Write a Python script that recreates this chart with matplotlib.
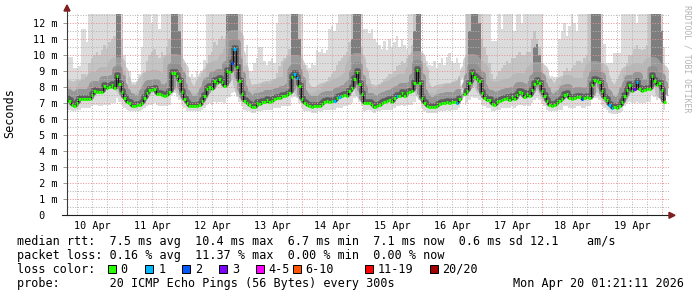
"""
Smokeping style latency graph: median rtt with smoke, 10 day view.
"""

import numpy as np
import matplotlib
matplotlib.use("Agg")
import matplotlib.pyplot as plt
import matplotlib.patches as mpatches
import matplotlib.transforms as mtransforms

W, H, DPI = 697, 297, 100

# one sample per hour, hours counted from 10 Apr 00:00
hours = np.arange(2, 242)

median = np.array([
    7.23, 7.14, 6.90, 6.81, 7.02, 7.23, 7.25, 7.25, 7.23, 7.27, 7.52, 7.73,
    7.70, 7.70, 7.70, 8.04, 7.92, 8.00, 8.10, 7.97, 8.67, 8.19, 7.69, 7.35,
    7.06, 7.02, 6.85, 6.81, 6.90, 6.90, 7.02, 7.29, 7.65, 7.81, 7.81, 7.87,
    7.58, 7.54, 7.50, 7.44, 7.50, 7.69, 8.85, 8.90, 8.69, 8.37, 7.69, 7.23,
    6.98, 6.83, 6.83, 6.83, 6.83, 6.90, 7.14, 7.44, 7.87, 8.00, 7.85, 8.40,
    8.23, 8.48, 8.31, 8.06, 9.00, 8.94, 9.52, 10.38, 9.23, 8.35, 7.56, 7.12,
    6.98, 6.90, 6.77, 6.77, 7.02, 6.92, 7.06, 7.08, 7.19, 7.06, 7.15, 7.27,
    7.35, 7.31, 7.44, 7.46, 7.48, 7.60, 8.65, 8.83, 8.58, 8.06, 7.23, 6.98,
    6.90, 6.83, 6.77, 6.79, 6.79, 6.85, 6.94, 7.06, 7.15, 7.08, 7.15, 7.15,
    7.31, 7.40, 7.44, 7.50, 7.44, 7.77, 7.94, 8.52, 8.94, 8.19, 7.56, 6.98,
    7.02, 7.02, 6.88, 6.77, 6.81, 6.90, 7.02, 7.06, 7.15, 7.19, 7.06, 7.29,
    7.44, 7.44, 7.65, 7.44, 7.60, 7.69, 7.77, 8.23, 9.04, 8.27, 7.29, 7.02,
    6.81, 6.77, 6.77, 6.73, 6.81, 6.94, 7.02, 7.02, 7.06, 7.02, 7.10, 7.06,
    7.02, 7.27, np.nan, 7.56, 7.77, 8.27, 8.85, 8.60, 8.52, 8.35, 7.65, 7.35,
    7.19, 7.20, 6.94, 6.90, 7.06, 7.15, 7.19, 7.23, 7.31, 7.19, 7.40, 7.27,
    7.48, 7.69, 7.60, 7.40, 7.56, 7.44, 7.81, 8.19, 8.35, 8.23, 7.77, 7.44,
    7.15, 6.90, 6.85, 6.90, 6.98, 7.15, 7.23, 7.52, 7.56, 7.31, 7.27, 7.35,
    7.40, 7.40, 7.23, 7.31, 7.40, 7.35, 8.10, 8.44, 8.40, 8.31, 7.73, 7.31,
    7.19, 6.90, 6.70, 6.73, 6.71, 6.85, 7.08, 7.47, 7.83, 8.15, 7.73, 7.85,
    8.29, 7.85, 7.73, 7.81, 7.90, 7.90, 8.69, 8.40, 8.15, 8.27, 7.81, 7.06,
])

# smoke: fastest ping, top of the denser smoke, slowest ping (ms)
smoke_lo = np.array([
    6.6, 6.6, 6.5, 6.5, 6.6, 6.6, 6.7, 6.7, 6.7, 6.7, 6.8, 6.9,
    6.9, 6.8, 6.8, 6.9, 6.9, 6.9, 7.0, 7.0, 7.3, 7.1, 6.9, 6.7,
    6.6, 6.5, 6.5, 6.5, 6.5, 6.5, 6.6, 6.7, 6.8, 6.9, 6.9, 7.0,
    6.9, 6.8, 6.8, 6.8, 6.8, 6.9, 7.5, 7.6, 7.4, 7.2, 6.9, 6.7,
    6.5, 6.5, 6.5, 6.5, 6.5, 6.5, 6.6, 6.7, 6.9, 7.0, 6.9, 7.1,
    7.0, 7.1, 7.1, 7.0, 7.3, 7.4, 7.6, 7.7, 7.4, 7.1, 6.8, 6.6,
    6.5, 6.5, 6.4, 6.4, 6.5, 6.5, 6.5, 6.6, 6.6, 6.6, 6.6, 6.7,
    6.7, 6.7, 6.8, 6.8, 6.8, 6.8, 7.3, 7.4, 7.3, 7.0, 6.7, 6.5,
    6.5, 6.5, 6.4, 6.4, 6.4, 6.5, 6.5, 6.6, 6.6, 6.6, 6.6, 6.6,
    6.7, 6.7, 6.7, 6.8, 6.8, 6.9, 7.0, 7.3, 7.5, 7.1, 6.8, 6.5,
    6.6, 6.6, 6.5, 6.4, 6.5, 6.5, 6.6, 6.6, 6.6, 6.6, 6.6, 6.7,
    6.8, 6.8, 6.9, 6.8, 6.9, 6.9, 6.9, 7.1, 7.5, 7.2, 6.7, 6.5,
    6.4, 6.4, 6.4, 6.4, 6.4, 6.5, 6.5, 6.5, 6.6, 6.5, 6.6, 6.6,
    6.6, 6.7, np.nan, 6.9, 7.0, 7.2, 7.4, 7.3, 7.3, 7.2, 6.9, 6.8,
    6.7, 6.7, 6.5, 6.5, 6.6, 6.6, 6.7, 6.7, 6.7, 6.7, 6.8, 6.7,
    6.8, 6.9, 6.9, 6.8, 6.9, 6.8, 7.0, 7.2, 7.3, 7.2, 7.0, 6.8,
    6.6, 6.5, 6.5, 6.5, 6.5, 6.6, 6.6, 6.8, 6.8, 6.7, 6.7, 6.7,
    6.8, 6.8, 6.7, 6.7, 6.8, 6.8, 7.2, 7.3, 7.3, 7.2, 6.9, 6.7,
    6.6, 6.4, 6.3, 6.3, 6.3, 6.4, 6.5, 6.8, 7.0, 7.1, 7.0, 7.0,
    7.1, 7.0, 7.0, 7.0, 7.1, 7.1, 7.5, 7.4, 7.2, 7.3, 7.0, 6.6,
])

smoke_mid = np.array([
    8.2, 8.0, 7.9, 7.8, 8.0, 8.3, 8.8, 8.8, 8.6, 9.5, 9.8, 10.0,
    10.2, 10.0, 10.3, 10.6, 10.4, 10.8, 11.0, 11.2, 12.6, 12.6, 11.0, 9.0,
    7.8, 7.8, 7.6, 7.6, 7.7, 7.8, 8.3, 8.9, 9.6, 10.0, 10.2, 10.4,
    10.0, 9.8, 10.2, 10.0, 10.5, 11.0, 12.6, 12.6, 12.6, 12.6, 11.0, 8.4,
    7.8, 7.7, 7.7, 7.6, 7.7, 7.8, 8.2, 8.6, 9.5, 10.0, 10.2, 10.8,
    10.6, 11.0, 11.2, 11.0, 12.6, 12.6, 12.6, 12.6, 12.6, 12.6, 10.0, 8.2,
    8.0, 7.8, 7.7, 7.8, 8.0, 8.0, 8.2, 8.2, 8.3, 8.2, 8.3, 8.5,
    8.9, 9.3, 9.6, 9.8, 10.0, 10.4, 12.6, 12.6, 12.6, 12.6, 9.0, 8.0,
    7.8, 7.7, 7.6, 7.7, 7.8, 7.8, 8.0, 8.2, 8.4, 8.6, 8.8, 9.0,
    9.4, 9.6, 9.8, 10.0, 10.2, 10.8, 12.6, 12.6, 12.6, 12.6, 10.5, 8.2,
    8.2, 8.2, 8.0, 7.9, 8.0, 8.1, 8.3, 8.5, 8.6, 8.8, 8.8, 9.0,
    9.3, 9.4, 9.6, 9.5, 9.8, 10.0, 10.6, 12.6, 12.6, 12.6, 8.5, 8.0,
    7.8, 7.7, 7.7, 7.6, 7.8, 7.9, 8.0, 8.1, 8.2, 8.2, 8.3, 8.3,
    8.4, 8.6, np.nan, 9.8, 12.6, 12.6, 12.6, 12.6, 12.6, 12.6, 11.0, 10.5,
    10.0, 9.5, 8.8, 8.5, 8.7, 9.0, 9.2, 9.4, 9.6, 9.5, 9.8, 9.8,
    10.0, 10.2, 10.0, 10.0, 10.2, 10.2, 11.0, 11.5, 11.0, 10.5, 9.5, 8.3,
    7.9, 7.7, 7.7, 7.8, 7.9, 8.2, 8.5, 9.0, 9.2, 9.0, 9.2, 9.4,
    9.6, 9.6, 9.5, 9.8, 10.0, 12.6, 12.6, 12.6, 12.6, 12.6, 9.5, 8.4,
    8.0, 7.7, 7.5, 7.5, 7.5, 7.7, 8.2, 8.8, 9.5, 10.0, 10.0, 10.4,
    10.6, 10.4, 10.3, 10.4, 10.6, 12.6, 12.6, 12.6, 12.6, 12.6, 11.0, 8.5,
])

smoke_hi = np.array([
    10.6, 9.9, 9.9, 9.2, 9.2, 9.3, 11.6, 11.6, 10.8, 12.6, 12.6, 12.6,
    12.6, 12.6, 12.6, 12.6, 12.6, 12.6, 12.6, 12.6, 12.6, 12.6, 12.6, 10.0,
    8.1, 9.0, 8.1, 8.3, 8.4, 8.8, 10.5, 12.6, 12.6, 12.6, 12.0, 12.6,
    12.6, 11.6, 12.6, 12.6, 12.6, 12.6, 12.6, 12.6, 12.6, 12.6, 12.6, 9.5,
    8.7, 8.6, 8.8, 8.6, 9.0, 8.6, 8.9, 9.7, 12.6, 12.6, 12.6, 12.6,
    12.6, 12.6, 12.6, 12.6, 12.6, 12.6, 12.6, 12.6, 12.6, 12.6, 12.6, 9.3,
    10.6, 9.0, 9.0, 9.5, 9.8, 10.5, 10.5, 9.6, 9.4, 9.6, 9.8, 9.5,
    12.0, 12.6, 12.6, 12.6, 12.6, 12.6, 12.6, 12.6, 12.6, 12.6, 12.6, 9.4,
    9.4, 9.2, 9.5, 9.4, 10.3, 10.2, 10.4, 10.1, 10.3, 11.6, 11.8, 11.5,
    12.0, 12.6, 12.6, 12.6, 12.6, 12.6, 12.6, 12.6, 12.6, 12.6, 12.6, 11.6,
    11.6, 11.4, 11.6, 11.0, 10.8, 10.6, 10.4, 10.9, 10.3, 11.0, 10.5, 10.8,
    11.2, 10.5, 11.0, 10.6, 10.4, 12.6, 12.6, 12.6, 12.6, 12.6, 10.0, 9.5,
    9.6, 9.4, 9.3, 9.6, 9.2, 9.5, 9.8, 9.4, 9.9, 10.1, 9.6, 9.5,
    9.8, 9.5, np.nan, 12.6, 12.6, 12.6, 12.6, 12.6, 12.6, 12.6, 12.6, 12.6,
    12.6, 12.6, 10.9, 10.9, 10.9, 12.6, 11.6, 12.6, 12.6, 12.6, 12.6, 11.5,
    12.6, 12.6, 12.0, 12.6, 12.6, 12.6, 12.6, 12.6, 12.6, 12.6, 12.6, 8.6,
    8.6, 8.5, 8.7, 8.6, 8.6, 11.0, 11.5, 12.0, 11.2, 11.8, 12.6, 12.0,
    11.5, 12.6, 12.6, 12.6, 12.6, 12.6, 12.6, 12.6, 12.6, 12.6, 12.6, 10.7,
    9.5, 9.5, 9.5, 10.1, 10.1, 10.1, 12.6, 12.6, 12.6, 12.6, 12.6, 12.6,
    12.0, 12.6, 12.6, 12.6, 12.6, 12.6, 12.6, 12.6, 12.6, 12.6, 12.6, 10.5,
])

# evening hours where the dense smoke reaches far up
peak_hours = [22, 23, 44, 45, 46, 47, 66, 67, 68, 69, 70, 92, 93, 94, 95,
              116, 117, 118, 119, 141, 142, 143, 163, 164, 165, 166, 167,
              189, 190, 191, 212, 213, 214, 215, 236, 237, 238, 239, 240]
peak_tops = [12.6, 12.6, 12.6, 12.6, 12.6, 11.5, 12.6, 12.6, 12.6, 12.6, 12.6,
             12.6, 12.6, 12.6, 11.0, 11.0, 12.6, 12.6, 12.6, 11.5, 12.6, 12.6,
             11.5, 12.6, 12.6, 12.6, 12.0, 10.5, 10.7, 10.0, 12.6, 12.6, 12.6,
             12.6, 12.6, 12.6, 12.6, 12.6, 11.5]

# hours with lost pings (out of 20)
loss_hours = [68, 69, 93, 94, 109, 111, 134, 158, 208, 219, 220, 229, 230]
loss_pings = [2, 1, 1, 1, 1, 1, 1, 1, 2, 1, 1, 3, 1]

loss_labels = ["0", "1", "2", "3", "4-5", "6-10", "11-19", "20/20"]
loss_colors = ["#26ff00", "#00b8ff", "#0059ff", "#7e00ff",
               "#ff00ff", "#ff5500", "#ff0000", "#a10000"]

day_labels = ["10 Apr", "11 Apr", "12 Apr", "13 Apr", "14 Apr",
              "15 Apr", "16 Apr", "17 Apr", "18 Apr", "19 Apr"]

stats_lines = [
    "median rtt:  7.5 ms avg  10.4 ms max  6.7 ms min  7.1 ms now  0.6 ms sd 12.1    am/s",
    "packet loss: 0.16 % avg  11.37 % max  0.00 % min  0.00 % now",
]
probe_text = "probe:       20 ICMP Echo Pings (56 Bytes) every 300s"
stamp_text = "Mon Apr 20 01:21:11 2026"

MONO = "DejaVu Sans Mono"
GRID = "#b4b4b4"
MGRID = "#e89090"
ARROW = "#801f1f"


def fx(px):
    return px / W


def fy(py):
    return 1 - py / H


def loss_color(n):
    bins = [0, 1, 2, 3, 5, 10, 19, 20]
    for i, top in enumerate(bins):
        if n <= top:
            return loss_colors[i]
    return loss_colors[-1]


fig = plt.figure(figsize=(W / DPI, H / DPI), dpi=DPI, facecolor="white")
x0, x1, y0, y1 = 67, 669, 215.3, 14.0
ax = fig.add_axes([fx(x0), fy(y0), fx(x1) - fx(x0), fy(y1) - fy(y0)])
ax.set_xlim(2.0, 242.8)
ax.set_ylim(0, 12.56)
for s in ax.spines.values():
    s.set_visible(False)

#  smoke
ax.fill_between(hours, smoke_lo, smoke_hi, step="mid", color="#dcdcdc",
                lw=0, antialiased=False, zorder=1)
ax.fill_between(hours, median, smoke_mid, step="mid", color="#c4c4c4",
                lw=0, antialiased=False, zorder=1.2)
idx = np.searchsorted(hours, peak_hours)
peak_base = median[idx]
ax.bar(peak_hours, np.array(peak_tops) - peak_base, bottom=peak_base, width=1.0,
       color="#7e7e7e", lw=0, antialiased=False, zorder=1.4)

# darker smoke hugging the median (shading only)
for dy, lw, col, a in [(11, 16.0, "#b0b0b0", 0.6), (6, 9.0, "#8e8e8e", 0.8),
                       (2, 4.5, "#5c5c5c", 1.0)]:
    off = mtransforms.offset_copy(ax.transData, fig=fig, x=0, y=dy, units="dots")
    ax.plot(hours, median, drawstyle="steps-mid", color=col, lw=lw * 0.72,
            alpha=a, transform=off, solid_capstyle="butt", zorder=1.6)

#  grid
grid_kw = dict(lw=0.72, linestyle=(0, (1, 1.6)), zorder=2)
for h in range(6, 243, 6):
    ax.axvline(h, color=MGRID if h % 24 == 0 else GRID, **grid_kw)
for v in np.arange(0.5, 12.6, 0.5):
    ax.axhline(v, color=MGRID if v % 1 == 0 else GRID, **grid_kw)

#  median line coloured by loss
ax.plot(hours, median, drawstyle="steps-mid", color="#111111", lw=0.8, zorder=3)
seg_colors = [loss_color(0)] * len(hours)
for h, n in zip(loss_hours, loss_pings):
    seg_colors[h - hours[0]] = loss_color(n)
ax.hlines(median, hours - 0.42, hours + 0.42, colors=seg_colors, lw=2.2, zorder=4)

#  axes, ticks
ax.set_xticks([])
ax.set_yticks(range(0, 13))
ax.set_yticklabels([" 0"] + [f"{v:2d} m" for v in range(1, 13)],
                   family=MONO, fontsize=7.3, ha="left")
ax.tick_params(axis="y", length=3, width=0.7, color="#999999", pad=21.6)

for i, lab in enumerate(day_labels):
    fig.text(fx(62 + 2.5 * (12 + 24 * i)), fy(228.7), lab, family=MONO,
             fontsize=7.3, ha="center", va="baseline")

ax.plot([fx(x0)] * 2, [fy(y0), fy(9)], transform=fig.transFigure,
        color="#3a3a3a", lw=0.8, clip_on=False, zorder=5)
ax.plot([fx(62), fx(670)], [fy(y0)] * 2, transform=fig.transFigure,
        color="#1f1f1f", lw=0.8, clip_on=False, zorder=5)
fig.patches.append(mpatches.Polygon(
    [(fx(64), fy(11)), (fx(70), fy(11)), (fx(67), fy(5))], closed=True,
    transform=fig.transFigure, color=ARROW))
fig.patches.append(mpatches.Polygon(
    [(fx(669), fy(212.3)), (fx(669), fy(218.3)), (fx(675), fy(215.3))],
    closed=True, transform=fig.transFigure, color=ARROW))

fig.text(fx(10), fy(113.5), "Seconds", family=MONO, fontsize=8.5,
         rotation=90, ha="center", va="center")
fig.text(fx(686.5), fy(5), "RRDTOOL / TOBI OETIKER", family=MONO, fontsize=5.9,
         rotation=-90, ha="center", va="top", color="#b3b3b3")

#  legend block
TX = 16.7
fig.text(fx(TX), fy(245.3), stats_lines[0], family=MONO, fontsize=8.5,
         va="baseline")
fig.text(fx(TX), fy(259.0), stats_lines[1], family=MONO, fontsize=8.5,
         va="baseline")
fig.text(fx(TX), fy(272.8), "loss color:", family=MONO, fontsize=8.5,
         va="baseline")
box_x = [108.3, 145.3, 182.3, 219.3, 256.0, 292.7, 365.0, 430.0]
lab_x = [120.7, 158.3, 195.0, 231.7, 268.3, 305.0, 377.3, 441.7]
for bx, lx, lab, col in zip(box_x, lab_x, loss_labels, loss_colors):
    fig.patches.append(mpatches.Rectangle(
        (fx(bx), fy(273.3)), 8 / W, 8 / H, transform=fig.transFigure,
        facecolor=col, edgecolor="black", lw=0.72))
    fig.text(fx(lx), fy(272.8), lab, family=MONO, fontsize=8.5, va="baseline")
fig.text(fx(TX), fy(286.7), probe_text, family=MONO, fontsize=8.5,
         va="baseline")
fig.text(fx(513.3), fy(286.7), stamp_text, family=MONO, fontsize=8.5,
         va="baseline")

fig.savefig("out.png", dpi=DPI, facecolor="white")
